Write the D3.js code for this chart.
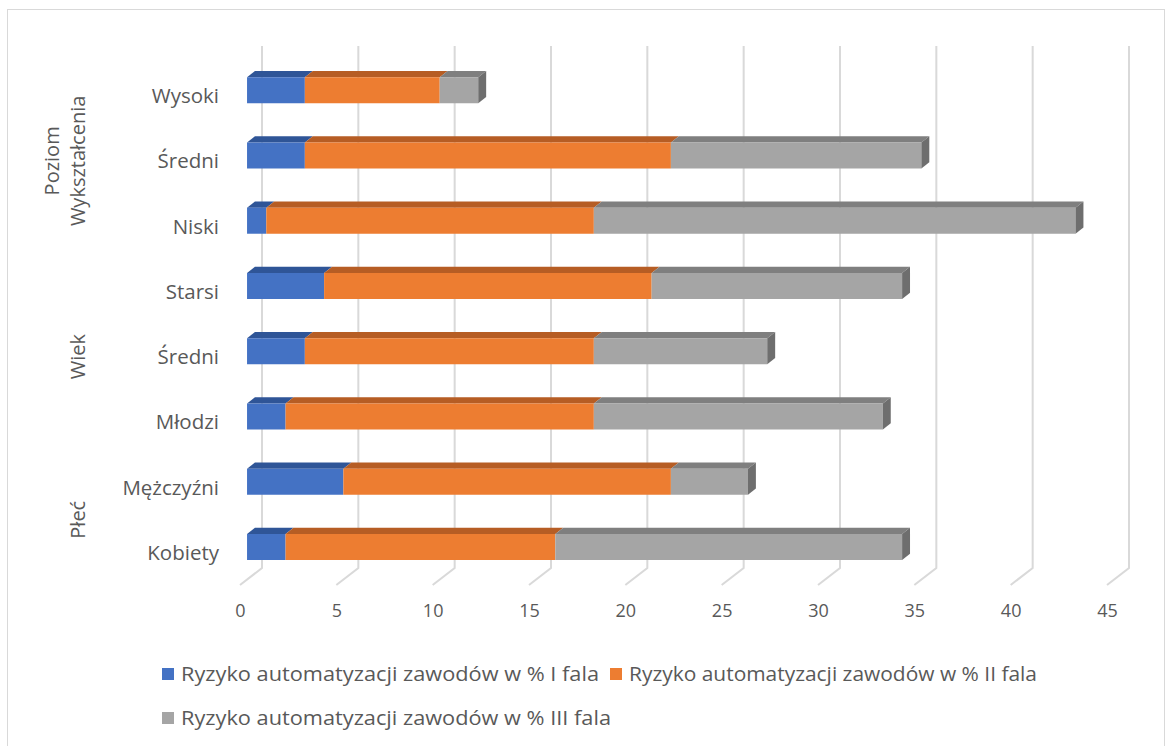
<!DOCTYPE html>
<html>
<head>
<meta charset="utf-8">
<script src="https://cdn.jsdelivr.net/npm/d3@7"></script>
<style>
  html, body { margin: 0; padding: 0; background: #fff; }
  svg { display: block; }
  text { font-family: "Open Sans", Lato, sans-serif; fill: #595959; }
</style>
</head>
<body>
<svg id="chart" width="1173" height="746"></svg>
<script>
// Categories, top to bottom
const categories = ["Wysoki", "Średni (wykształcenie)", "Niski", "Starsi", "Średni (wiek)", "Młodzi", "Mężczyźni", "Kobiety"];
const categoryLabels = ["Wysoki", "Średni", "Niski", "Starsi", "Średni", "Młodzi", "Mężczyźni", "Kobiety"];

// Group labels spanning several categories
const groups = [
  { lines: ["Poziom", "Wykształcenia"], from: "Wysoki", to: "Niski" },
  { lines: ["Wiek"], from: "Starsi", to: "Młodzi" },
  { lines: ["Płeć"], from: "Mężczyźni", to: "Kobiety" }
];

// Series values (%), one per category
const seriesNames = [
  "Ryzyko automatyzacji zawodów w % I fala",
  "Ryzyko automatyzacji zawodów w % II fala",
  "Ryzyko automatyzacji zawodów w % III fala"
];
const wave1 = [3, 3, 1, 4, 3, 2, 5, 2];
const wave2 = [7, 19, 17, 17, 15, 16, 17, 14];
const wave3 = [2, 13, 25, 13, 9, 15, 4, 18];

const xTicks = [0, 5, 10, 15, 20, 25, 30, 35, 40, 45];

// Face colours per series: front, top, side
const palette = [
  { front: "#4472C4", top: "#2F5597", side: "#2F5597" },
  { front: "#ED7D31", top: "#B65D24", side: "#B65D24" },
  { front: "#A5A5A5", top: "#7F7F7F", side: "#6E6E6E" }
];

const svg = d3.select("#chart");

// Chart frame
svg.append("rect")
  .attr("x", 7.5).attr("y", 9.5)
  .attr("width", 1157).attr("height", 760)
  .attr("fill", "#fff").attr("stroke", "#d9d9d9").attr("stroke-width", 1);

// Back wall geometry and depth projection
const wall = { left: 262, right: 1129, top: 46, bottom: 568 };
const depth = { dx: -22, dy: 17 };       // vector from back wall to front edge
const barDepth = [0.32, 0.68];            // bar occupies this slice of the depth

const x = d3.scaleLinear().domain([0, 45]).range([wall.left, wall.right]);
const y = d3.scaleBand().domain(categories).range([wall.top, wall.bottom])
  .paddingInner(0.6).paddingOuter(0.3);

const proj = (v, yy, d) => [x(v) + depth.dx * d, yy + depth.dy * d];

// Gridlines: vertical on the back wall, bending forward on the floor
const grid = svg.append("g");
xTicks.forEach(t => {
  const pts = [[x(t), wall.top], [x(t), wall.bottom], [x(t) + depth.dx, wall.bottom + depth.dy]];
  grid.append("path")
    .attr("d", d3.line()(pts))
    .attr("fill", "none").attr("stroke", "#d9d9d9").attr("stroke-width", 2);
});

// Stacked series
const rows = categories.map((c, i) => ({ key: c, w1: wave1[i], w2: wave2[i], w3: wave3[i] }));
const stack = d3.stack().keys(["w1", "w2", "w3"])(rows);

const bars = svg.append("g");
const poly = pts => "M" + pts.map(p => p.join(",")).join("L") + "Z";

categories.forEach((c, i) => {
  const y0 = y(c), y1 = y(c) + y.bandwidth();
  stack.forEach((layer, s) => {
    const [a, b] = layer[i];
    if (b - a <= 0) return;
    const col = palette[s];
    const [f, k] = [barDepth[1], barDepth[0]];
    // top face
    bars.append("path")
      .attr("d", poly([proj(a, y0, f), proj(b, y0, f), proj(b, y0, k), proj(a, y0, k)]))
      .attr("fill", col.top);
    // front face
    bars.append("path")
      .attr("d", poly([proj(a, y0, f), proj(b, y0, f), proj(b, y1, f), proj(a, y1, f)]))
      .attr("fill", col.front);
    // right side face on the last segment
    if (s === stack.length - 1) {
      bars.append("path")
        .attr("d", poly([proj(b, y0, f), proj(b, y0, k), proj(b, y1, k), proj(b, y1, f)]))
        .attr("fill", col.side);
    }
  });
});

// Value axis along the front edge of the floor
const xFront = d3.scaleLinear().domain([0, 45]).range([wall.left + depth.dx, wall.right + depth.dx]);
const xAxis = svg.append("g")
  .attr("transform", `translate(0,${wall.bottom + depth.dy + 19})`)
  .call(d3.axisBottom(xFront).tickValues(xTicks).tickSize(0).tickPadding(0));
xAxis.select(".domain").remove();
xAxis.selectAll("text")
  .attr("dy", "0.71em")
  .style("font-family", "'Open Sans', sans-serif")
  .style("font-size", "18px").attr("fill", "#595959");

// Category axis along the front edge of the left side
const yFront = d3.scaleBand().domain(categories).range([wall.top + depth.dy, wall.bottom + depth.dy])
  .paddingInner(0.6).paddingOuter(0.3);
const yAxis = svg.append("g")
  .attr("transform", `translate(219,1)`)
  .call(d3.axisLeft(yFront).tickSize(0).tickPadding(0)
    .tickFormat((d, i) => categoryLabels[i]));
yAxis.select(".domain").remove();
yAxis.selectAll("text")
  .style("font-family", "'Open Sans', sans-serif")
  .style("font-size", "20.5px").attr("fill", "#595959");

// Group labels, rotated
groups.forEach(g => {
  const cy = (yFront(g.from) + yFront(g.to) + yFront.bandwidth()) / 2;
  const n = g.lines.length;
  const t = svg.append("text")
    .attr("transform", `translate(${78 - (n - 1) * 26 + 7},${cy}) rotate(-90)`)
    .attr("text-anchor", "middle")
    .style("font-size", "20px");
  g.lines.forEach((ln, j) => {
    t.append("tspan").attr("x", 0).attr("dy", j === 0 ? 0 : 26).text(ln);
  });
});

// Legend
const legendItems = [
  { name: seriesNames[0], color: palette[0].front, x: 162, y: 674, len: 418 },
  { name: seriesNames[1], color: palette[1].front, x: 610, y: 674, len: 408 },
  { name: seriesNames[2], color: palette[2].front, x: 162, y: 718, len: 430 }
];
const legend = svg.append("g");
legendItems.forEach(it => {
  legend.append("rect").attr("x", it.x).attr("y", it.y - 6).attr("width", 12).attr("height", 12).attr("fill", it.color);
  legend.append("text").attr("x", it.x + 19).attr("y", it.y).attr("dy", "0.35em")
    .attr("textLength", it.len).attr("lengthAdjust", "spacingAndGlyphs")
    .style("font-size", "19.5px").text(it.name);
});
</script>
</body>
</html>
